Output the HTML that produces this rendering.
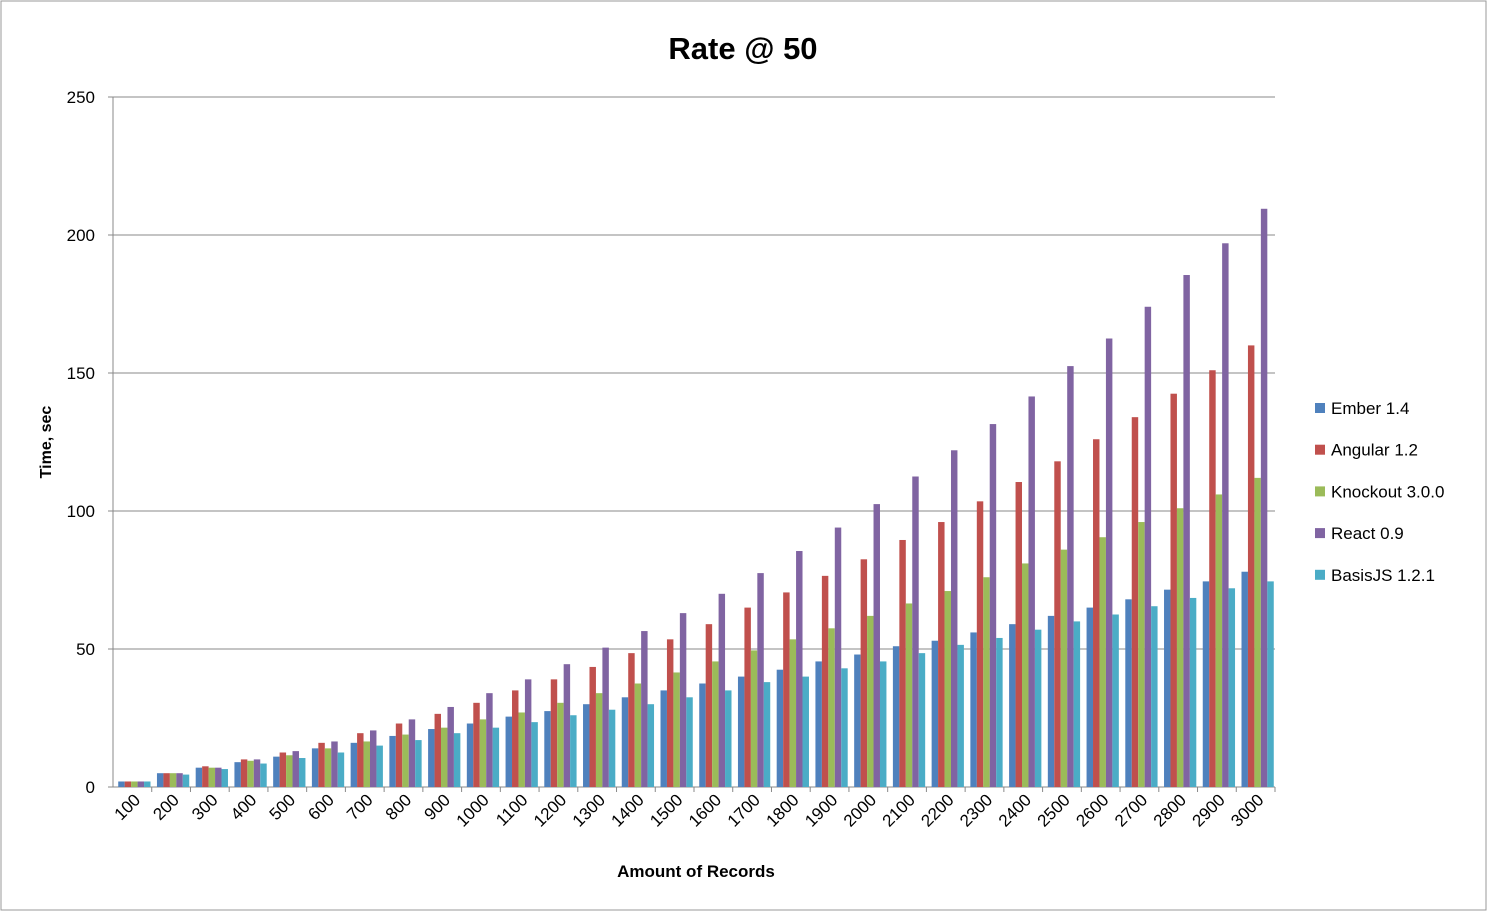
<!DOCTYPE html>
<html><head><meta charset="utf-8"><style>
body{margin:0;background:#fff;font-family:"Liberation Sans",sans-serif}
svg text{font-family:"Liberation Sans",sans-serif}
</style></head><body>
<svg id="chart" width="1488" height="912" xmlns="http://www.w3.org/2000/svg">
<rect x="1" y="1" width="1485" height="909" fill="#fff" stroke="#999"/>
<text x="743" y="59" text-anchor="middle" font-size="31" font-weight="bold">Rate @ 50</text>
<text transform="translate(51,442) rotate(-90)" text-anchor="middle" font-size="16" font-weight="bold">Time, sec</text>
<text x="696" y="877" text-anchor="middle" font-size="17" font-weight="bold">Amount of Records</text>
<g id="grid"></g><g id="bars"></g><g id="xl"></g><g id="legend"></g>
</svg>
<script>
const categories=[100,200,300,400,500,600,700,800,900,1000,1100,1200,1300,1400,1500,1600,1700,1800,1900,2000,2100,2200,2300,2400,2500,2600,2700,2800,2900,3000];
const seriesNames=["Ember 1.4","Angular 1.2","Knockout 3.0.0","React 0.9","BasisJS 1.2.1"];
const ember=[2,5,7,9,11,14,16,18.5,21,23,25.5,27.5,30,32.5,35,37.5,40,42.5,45.5,48,51,53,56,59,62,65,68,71.5,74.5,78];
const angular=[2,5,7.5,10,12.5,16,19.5,23,26.5,30.5,35,39,43.5,48.5,53.5,59,65,70.5,76.5,82.5,89.5,96,103.5,110.5,118,126,134,142.5,151,160];
const knockout=[2,5,7,9.5,11.5,14,16.5,19,21.5,24.5,27,30.5,34,37.5,41.5,45.5,49.5,53.5,57.5,62,66.5,71,76,81,86,90.5,96,101,106,112];
const react=[2,5,7,10,13,16.5,20.5,24.5,29,34,39,44.5,50.5,56.5,63,70,77.5,85.5,94,102.5,112.5,122,131.5,141.5,152.5,162.5,174,185.5,197,209.5];
const basis=[2,4.5,6.5,8.5,10.5,12.5,15,17,19.5,21.5,23.5,26,28,30,32.5,35,38,40,43,45.5,48.5,51.5,54,57,60,62.5,65.5,68.5,72,74.5];
const yTicks=[0,50,100,150,200,250];
const colors=["#4F81BD","#C0504D","#9BBB59","#8064A2","#4BACC6"];
const series=[ember,angular,knockout,react,basis];
const NS="http://www.w3.org/2000/svg";
const X0=113,X1=1275,Y0=787,Y1=97,YMAX=250;
const y=v=>Y0-(v/YMAX)*(Y0-Y1);
const gw=(X1-X0)/categories.length,bw=gw/6;
function mk(t,a,p){const e=document.createElementNS(NS,t);for(const k in a)e.setAttribute(k,a[k]);p.appendChild(e);return e;}
const grid=document.getElementById('grid');
yTicks.forEach(t=>{
  const l=mk('line',{x1:X0-5,x2:X1,y1:y(t),y2:y(t),stroke:'#888','stroke-width':1},grid);
  
  
  const tx=mk('text',{x:95,y:y(t)+6,'text-anchor':'end','font-size':17},grid);
  tx.textContent=t;
  
  
});
const ax=mk('line',{x1:X0,x2:X0,y1:Y1,y2:Y0,stroke:'#888'},grid);


const bars=document.getElementById('bars'),xl=document.getElementById('xl');
categories.forEach((c,i)=>{
  const gx=X0+i*gw+bw/2+2;
  series.forEach((s,j)=>{
    const r=mk('rect',{x:gx+j*bw,y:y(s[i]),width:bw,height:Y0-y(s[i]),fill:colors[j]},bars);
    
    
  });
  const cx=X0+(i+0.5)*gw;
  const tk=mk('line',{x1:X0+(i+1)*gw,x2:X0+(i+1)*gw,y1:Y0,y2:Y0+5,stroke:'#888'},xl);
  
  
  const t=mk('text',{transform:`translate(${cx+9},${Y0+14}) rotate(-45)`,'text-anchor':'end','font-size':17},xl);
  t.textContent=c;
  
  
});
const lg=document.getElementById('legend');
seriesNames.forEach((n,j)=>{
  const yy=412+j*41.7;
  const r=mk('rect',{x:1315,y:yy-9,width:10,height:10,fill:colors[j]},lg);
  
  
  const t=mk('text',{x:1331,y:yy+2,'font-size':17},lg);
  t.textContent=n;
  
  
});
</script>
</body></html>
